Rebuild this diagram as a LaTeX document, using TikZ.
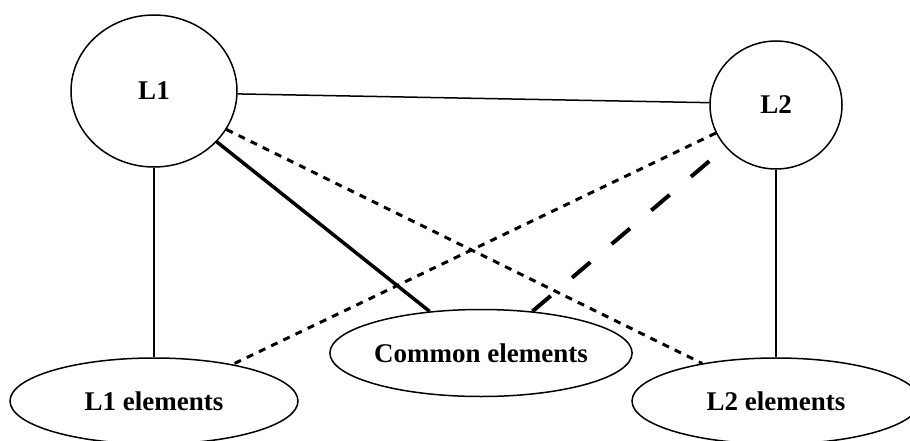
\documentclass[tikz,border=0pt]{standalone}
\usepackage{fontspec}
\setmainfont{Liberation Serif}
\usetikzlibrary{shapes.geometric}
\begin{document}
\begin{tikzpicture}[x=1pt,y=-1pt,
  blob/.style={draw,ellipse,line width=1.5pt,fill=white,inner sep=0pt,
    font=\fontsize{27}{30}\selectfont\bfseries},
  thin/.style={line width=1.5pt},
  thickline/.style={line width=3.5pt},
  dotline/.style={line width=3pt,dash pattern=on 7pt off 6.5pt},
  longdash/.style={line width=4pt,dash pattern=on 24pt off 28pt}]
\useasboundingbox (0,0) rectangle (910,441);
\clip (0,0) rectangle (910,441);
\node[blob,minimum width=166pt,minimum height=152pt] (L1) at (154,91) {L1};
\node[blob,minimum width=132pt,minimum height=128pt] (L2) at (776,105) {L2};
\node[blob,minimum width=288pt,minimum height=87pt] (C) at (481,353) {Common elements};
\node[blob,minimum width=288pt,minimum height=86pt] (E1) at (154,401) {L1 elements};
\node[blob,minimum width=288pt,minimum height=86pt] (E2) at (776,401) {L2 elements};
\draw[thin] (L1.-2) -- (L2.178);
\draw[thin] (L1.south) -- (E1.north);
\draw[thin] (L2.south) -- (E2.north);
\draw[thickline] (L1.-39) -- (C.141.6);
\draw[dotline] (L1.-28) -- (E2.153.7);
\draw[dotline] (L2.205.4) -- (E1.25.7);
\draw[longdash] (C.39.5) -- (L2.220.7);
\end{tikzpicture}
\end{document}
